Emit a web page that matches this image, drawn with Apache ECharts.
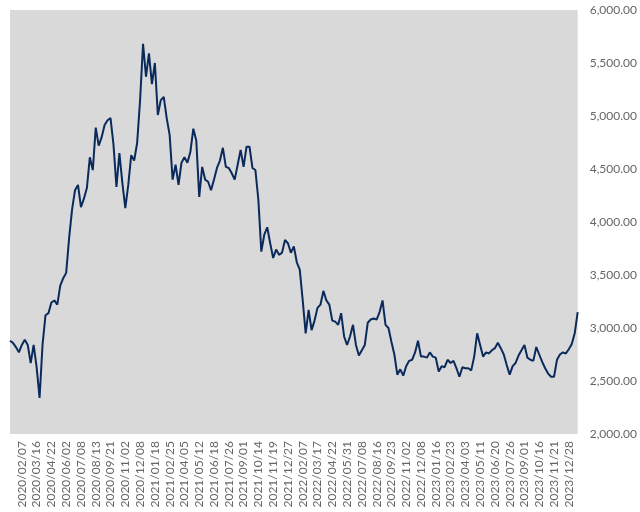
<!DOCTYPE html>
<html>
<head>
<meta charset="utf-8">
<script src="https://cdn.jsdelivr.net/npm/echarts@6/dist/echarts.min.js"></script>
<style>
  html, body { margin: 0; padding: 0; background: #fff; }
  #chart { width: 640px; height: 512px; }
</style>
</head>
<body>
<div id="chart"></div>
<script>
var tickLabels = ['2020/02/07','2020/03/16','2020/04/22','2020/06/02','2020/07/08','2020/08/13',
    '2020/09/21','2020/11/02','2020/12/08','2021/01/18','2021/02/25','2021/04/05','2021/05/12',
    '2021/06/18','2021/07/26','2021/09/01','2021/10/14','2021/11/19','2021/12/27','2022/02/07',
    '2022/03/17','2022/04/22','2022/05/31','2022/07/08','2022/08/16','2022/09/23','2022/11/02',
    '2022/12/08','2023/01/16','2023/02/23','2023/04/03','2023/05/11','2023/06/20','2023/07/26',
    '2023/09/01','2023/10/16','2023/11/21','2023/12/28'];

// index closing values (about one point per 5 trading days)
var values = [
    2880, 2860, 2820, 2770, 2840, 2890, 2840, 2670, 2840, 2630,
    2340, 2840, 3120, 3140, 3240, 3260, 3220, 3400, 3470, 3520,
    3850, 4120, 4300, 4350, 4140, 4220, 4320, 4610, 4490, 4890,
    4720, 4800, 4915, 4960, 4980, 4730, 4330, 4650, 4370, 4130,
    4350, 4630, 4580, 4745, 5150, 5680, 5370, 5590, 5300, 5500,
    5010, 5150, 5180, 4980, 4820, 4400, 4540, 4350, 4560, 4610,
    4560, 4660, 4880, 4770, 4236, 4520, 4400, 4380, 4300, 4400,
    4510, 4580, 4700, 4520, 4510, 4460, 4400, 4540, 4680, 4520,
    4710, 4710, 4510, 4490, 4210, 3720, 3880, 3950, 3800, 3660,
    3740, 3690, 3710, 3830, 3800, 3710, 3770, 3620, 3550, 3260,
    2950, 3170, 2980, 3070, 3190, 3220, 3350, 3260, 3220, 3070,
    3060, 3030, 3140, 2920, 2840, 2920, 3030, 2840, 2740, 2790,
    2840, 3050, 3080, 3090, 3080, 3150, 3260, 3030, 3000, 2870,
    2750, 2560, 2610, 2550, 2640, 2690, 2700, 2770, 2880, 2730,
    2730, 2720, 2770, 2730, 2720, 2590, 2640, 2630, 2700, 2670,
    2690, 2620, 2540, 2630, 2620, 2620, 2600, 2730, 2950, 2840,
    2730, 2770, 2760, 2790, 2810, 2860, 2810, 2750, 2650, 2560,
    2640, 2670, 2740, 2790, 2840, 2720, 2700, 2690, 2820, 2750,
    2680, 2620, 2570, 2540, 2540, 2700, 2750, 2770, 2760, 2800,
    2850, 2950, 3150
];

var labelStart = 4;   // first labelled point
var labelStep = 5;    // points between labels

var categories = [];
for (var i = 0; i < values.length; i++) {
    var k = i - labelStart;
    categories.push(k >= 0 && k % labelStep === 0 ? tickLabels[k / labelStep] : '');
}

var myChart = echarts.init(document.getElementById('chart'));
var option = {
    animation: false,
    grid: {
        left: 10,
        right: 59,
        top: 10,
        bottom: 78,
        show: true,
        backgroundColor: '#d9d9d9',
        borderWidth: 0
    },
    xAxis: {
        type: 'category',
        boundaryGap: false,
        data: categories,
        axisLine: {show: false},
        axisTick: {show: false},
        splitLine: {show: false},
        axisLabel: {
            rotate: 90,
            margin: 7,
            color: '#666666',
            fontSize: 12,
            fontFamily: 'Lato',
            interval: function (index) {
                var k = index - labelStart;
                return k >= 0 && k % labelStep === 0;
            }
        }
    },
    yAxis: {
        type: 'value',
        position: 'right',
        min: 2000,
        max: 6000,
        interval: 500,
        axisLine: {show: false},
        axisTick: {show: false},
        splitLine: {show: false},
        axisLabel: {
            margin: 12,
            color: '#666666',
            fontSize: 12,
            fontFamily: 'Lato',
            formatter: function (v) {
                return v.toLocaleString('en-US', {minimumFractionDigits: 2, maximumFractionDigits: 2});
            }
        }
    },
    series: [
        {
            type: 'line',
            data: values,
            showSymbol: false,
            symbol: 'none',
            lineStyle: {color: '#0b2a5c', width: 2}
        }
    ]
};
myChart.setOption(option);
</script>
</body>
</html>
